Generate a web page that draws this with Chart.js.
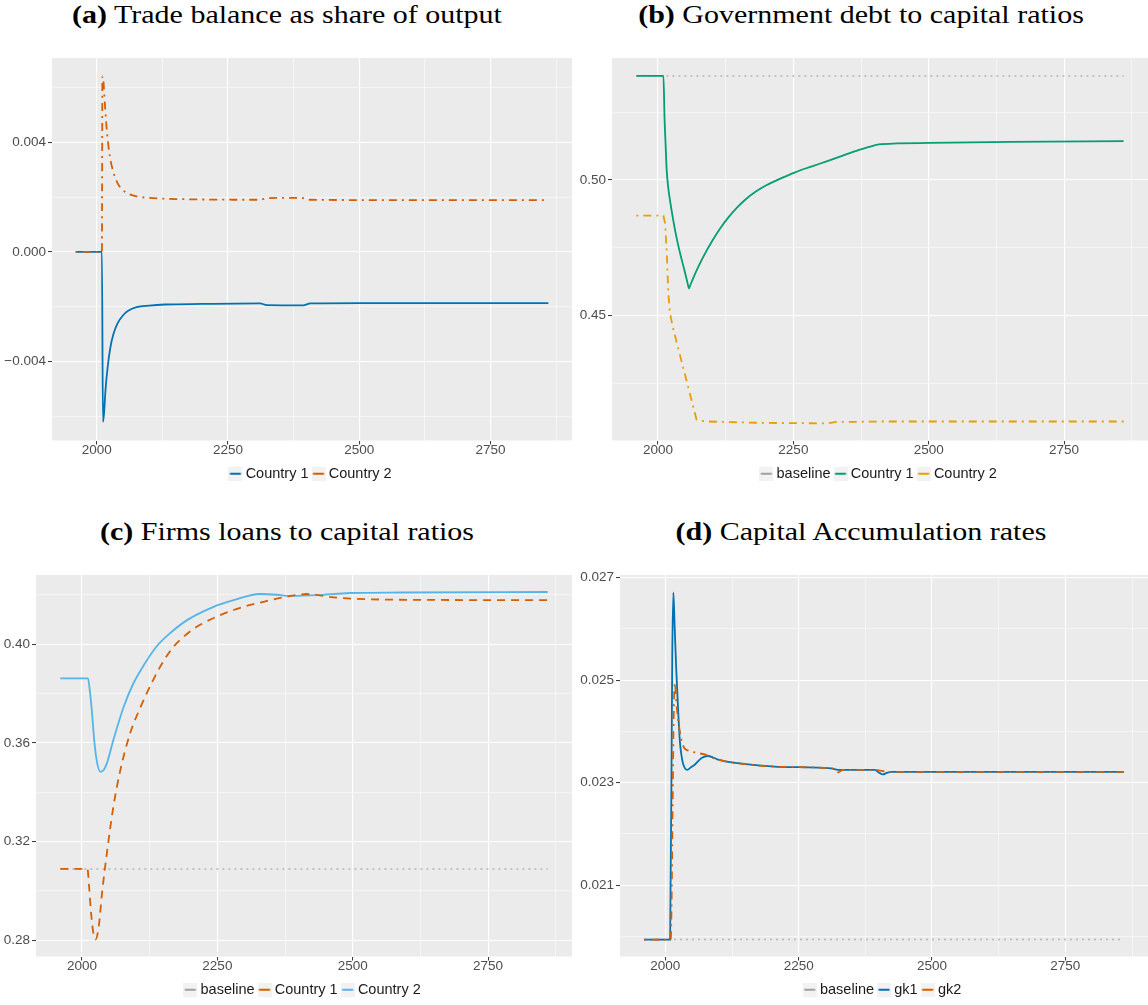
<!DOCTYPE html>
<html>
<head>
<meta charset="utf-8">
<script src="https://cdn.jsdelivr.net/npm/chart.js@4.4.0/dist/chart.umd.min.js"></script>
<style>
  html, body { margin: 0; padding: 0; background: #fff; overflow: hidden; }
  body { width: 1148px; height: 1005px; position: relative; }
  .title { position: absolute; width: 574px; text-align: center; white-space: nowrap;
           font-family: "Liberation Serif", "Times New Roman", serif; font-size: 25px; color: #000;
           transform: scaleX(1.2); transform-origin: center; }
  canvas { position: absolute; }
</style>
</head>
<body>

<div class="title" style="left:0;top:1px"><b>(a)</b> Trade balance as share of output</div>
<div class="title" style="left:574px;top:1px"><b>(b)</b> Government debt to capital ratios</div>
<div class="title" style="left:0;top:518px"><b>(c)</b> Firms loans to capital ratios</div>
<div class="title" style="left:574px;top:518px"><b>(d)</b> Capital Accumulation rates</div>

<canvas id="chartA" width="574" height="447" style="left:0;top:44px"></canvas>
<canvas id="chartB" width="576" height="447" style="left:572px;top:44px"></canvas>
<canvas id="chartC" width="574" height="446" style="left:0;top:561px"></canvas>
<canvas id="chartD" width="573" height="446" style="left:575px;top:561px"></canvas>

<script>
// ================= DATA =================
// shared x axis (years)
const yearTicks = [2000, 2125, 2250, 2375, 2500, 2625, 2750, 2875];
const yearLabels = [2000, 2250, 2500, 2750];

// (a) trade balance as share of output
const tbYears1 = [1960, 2010, 2012, 2014, 2017, 2021, 2026, 2032, 2040, 2050, 2060, 2076, 2100, 2130, 2200, 2311, 2324, 2393, 2407, 2500, 2860];
const tbCountry1 = [0, 0, -0.0062, -0.0059, -0.0050, -0.0042, -0.0035, -0.0030, -0.0026, -0.00232, -0.00215, -0.00202, -0.00196, -0.00192, -0.0019, -0.00188, -0.00194, -0.00195, -0.00188, -0.00187, -0.00187];
const tbYears2 = [1960, 2010, 2011, 2013, 2016, 2020, 2025, 2032, 2040, 2050, 2060, 2076, 2100, 2130, 2200, 2311, 2325, 2390, 2405, 2500, 2860];
const tbCountry2 = [0, 0, 0.0064, 0.0062, 0.0053, 0.0043, 0.0035, 0.0029, 0.0025, 0.00225, 0.00212, 0.00202, 0.00197, 0.00194, 0.00191, 0.0019, 0.00196, 0.00197, 0.0019, 0.00189, 0.00189];
const tbTicks = [-0.006, -0.004, -0.002, 0, 0.002, 0.004, 0.006];
const tbLabels = [-0.004, 0, 0.004];

// (b) government debt to capital ratios
const baseYears = [1960, 2860];
const gdBaseline = [0.5383, 0.5383];
const gdYears1 = [1960, 2010, 2012, 2014, 2016, 2019, 2022, 2028, 2035, 2041, 2049, 2055, 2057, 2059, 2065, 2075, 2085, 2100, 2115, 2130, 2145, 2160, 2180, 2200, 2222, 2252, 2283, 2314, 2345, 2376, 2413, 2500, 2650, 2860];
const gdCountry1 = [0.5383, 0.5383, 0.523, 0.513, 0.5037, 0.497, 0.4926, 0.4853, 0.478, 0.4728, 0.4665, 0.4616, 0.460, 0.4609, 0.4638, 0.4682, 0.4722, 0.4775, 0.4822, 0.4862, 0.4896, 0.4925, 0.4956, 0.498, 0.5001, 0.5027, 0.5049, 0.507, 0.5092, 0.5113, 0.5132, 0.5136, 0.514, 0.5143];
const gdYears2 = [1960, 2010, 2013, 2016, 2019, 2022, 2027, 2071, 2080, 2092, 2191, 2314, 2327, 2413, 2860];
const gdCountry2 = [0.4868, 0.4868, 0.484, 0.474, 0.4583, 0.451, 0.446, 0.4118, 0.4112, 0.411, 0.4105, 0.4103, 0.4108, 0.411, 0.411];
const gdTicks = [0.425, 0.45, 0.475, 0.5, 0.525];
const gdLabels = [0.45, 0.5];

// (c) firms loans to capital ratios
const flBaseline = [0.3089, 0.3089];
const flYears1 = [1960, 2010, 2013, 2016, 2020, 2025, 2031, 2037, 2046, 2058, 2071, 2089, 2108, 2132, 2150, 2169, 2190, 2219, 2280, 2342, 2391, 2415, 2465, 2526, 2650, 2860];
const flCountry1 = [0.3089, 0.3089, 0.302, 0.293, 0.2843, 0.2803, 0.2857, 0.2992, 0.3154, 0.3343, 0.3492, 0.364, 0.3745, 0.3858, 0.393, 0.399, 0.4035, 0.408, 0.4139, 0.4176, 0.4198, 0.4204, 0.419, 0.4183, 0.418, 0.4179];
const flYears2 = [1960, 2011, 2014, 2018, 2023, 2028, 2034, 2040, 2046, 2058, 2077, 2095, 2114, 2138, 2160, 2194, 2243, 2280, 2329, 2360, 2384, 2434, 2495, 2588, 2860];
const flCountry2 = [0.3862, 0.3862, 0.382, 0.3734, 0.36, 0.3518, 0.3483, 0.349, 0.3518, 0.3613, 0.3747, 0.3842, 0.3915, 0.3992, 0.404, 0.4098, 0.4152, 0.4179, 0.4204, 0.4201, 0.4196, 0.4199, 0.4208, 0.421, 0.4212];
const flTicks = [0.28, 0.30, 0.32, 0.34, 0.36, 0.38, 0.40, 0.42];
const flLabels = [0.28, 0.32, 0.36, 0.40];

// (d) capital accumulation rates
const caBaseline = [0.01994, 0.01994];
const caYears1 = [1960, 2009, 2013, 2015, 2017.5, 2020.5, 2024, 2027, 2030, 2033, 2041, 2048, 2055, 2068, 2080, 2090, 2099, 2136, 2211, 2311, 2324, 2393, 2400, 2408, 2415, 2424, 2860];
const caGk1 = [0.01994, 0.01994, 0.0255, 0.02671, 0.02604, 0.0252, 0.02442, 0.02384, 0.02355, 0.02338, 0.02325, 0.0233, 0.02335, 0.02348, 0.02352, 0.02349, 0.02345, 0.02338, 0.02331, 0.02328, 0.02325, 0.02325, 0.0232, 0.02316, 0.02319, 0.02321, 0.02321];
const caYears2 = [1960, 2010, 2016, 2018, 2020.5, 2024, 2030, 2036, 2042, 2060, 2074, 2083, 2099, 2136, 2211, 2311, 2318, 2324, 2333, 2393, 2405, 2424, 2860];
const caGk2 = [0.01994, 0.01994, 0.0245, 0.02495, 0.02458, 0.02423, 0.02384, 0.02367, 0.02363, 0.02358, 0.02355, 0.02351, 0.02345, 0.02338, 0.02331, 0.02328, 0.02326, 0.0232, 0.02325, 0.02325, 0.02323, 0.02321, 0.02321];
const caTicks = [0.020, 0.021, 0.022, 0.023, 0.024, 0.025, 0.026, 0.027];
const caLabels = [0.021, 0.023, 0.025, 0.027];

// ================= STYLE HELPERS =================
Chart.defaults.font.family = "'Liberation Sans', Arial, sans-serif";

const BLUE = '#0072B2', VERMIL = '#D55E00', GREEN = '#009E73', ORANGE = '#E69F00', SKY = '#56B4E9', GREY = '#B5B5B5';
const DOTDASH = [2, 5, 8, 5], DASHED = [8, 6], DOTTED = [2, 4];

const pts = (xs, ys) => xs.map((x, i) => ({ x: x, y: ys[i] }));
const minus = s => s.replace('-', '\u2212');

// grey legend key with a short coloured line
function keyIcon(color) {
    const c = document.createElement('canvas');
    c.width = 14; c.height = 14;
    const g = c.getContext('2d');
    g.fillStyle = '#F2F2F2';
    g.fillRect(0, 0, 14, 14);
    g.strokeStyle = color;
    g.lineWidth = 2;
    g.beginPath(); g.moveTo(1.5, 7); g.lineTo(12.5, 7); g.stroke();
    return c;
}

function series(label, xs, ys, color, dash, order, width) {
    return {
        label: label, data: pts(xs, ys), borderColor: color, borderDash: dash || [],
        borderWidth: width || 1.8, order: order, cubicInterpolationMode: 'monotone',
        pointRadius: 0, fill: false, keyColor: color === GREY ? '#A0A0A0' : color
    };
}

// ggplot grey panel
const panelBg = {
    id: 'panelBg',
    beforeDraw(chart) {
        const { ctx, chartArea: a } = chart;
        ctx.save();
        ctx.fillStyle = '#EBEBEB';
        ctx.fillRect(a.left, a.top, a.right - a.left, a.bottom - a.top);
        ctx.restore();
    }
};

function axis(ticks, labels, min, max, fmt, size, isY) {
    const major = v => labels.some(l => Math.abs(l - v) < 1e-9);
    return {
        type: 'linear', min: min, max: max,
        afterBuildTicks: s => { s.ticks = ticks.map(v => ({ value: v })); },
        afterFit: s => { if (isY) s.width = size; else s.height = size; },
        border: { display: false },
        grid: {
            color: '#FFFFFF',
            lineWidth: c => (c.tick && major(c.tick.value)) ? 1.1 : 0.55,
            tickColor: c => (c.tick && major(c.tick.value)) ? '#333333' : 'rgba(0,0,0,0)',
            tickWidth: 1,
            tickLength: 4
        },
        ticks: {
            autoSkip: false, maxRotation: 0, padding: isY ? 2 : -2,
            color: '#4D4D4D', font: { size: 13.5 },
            callback: v => major(v) ? fmt(v) : ''
        }
    };
}

function makeChart(id, datasets, y) {
    return new Chart(document.getElementById(id), {
        type: 'line',
        data: { datasets: datasets },
        options: {
            responsive: false,
            animation: false,
            layout: { padding: { top: 14, right: y.padRight, left: 0, bottom: 0 } },
            plugins: {
                tooltip: { enabled: false },
                legend: {
                    position: 'bottom',
                    fullSize: false,
                    labels: {
                        usePointStyle: true, boxWidth: 6, padding: 7,
                        color: '#1A1A1A', font: { size: 14.5 },
                        generateLabels: chart => chart.data.datasets.map((ds, i) => ({
                            text: ds.label, datasetIndex: i, hidden: false,
                            pointStyle: keyIcon(ds.keyColor), fontColor: '#1A1A1A',
                            fillStyle: 'transparent', strokeStyle: 'transparent', lineWidth: 0
                        }))
                    }
                }
            },
            scales: {
                x: axis(yearTicks, yearLabels, 1915, 2905, v => String(v), 19, false),
                y: axis(y.ticks, y.labels, y.min, y.max, y.fmt, y.width, true)
            }
        },
        plugins: [panelBg]
    });
}

// ================= CHARTS =================
makeChart('chartA', [
    series('Country 1', tbYears1, tbCountry1, BLUE, null, 2),
    series('Country 2', tbYears2, tbCountry2, VERMIL, DOTDASH, 1)
], { ticks: tbTicks, labels: tbLabels, min: -0.00688, max: 0.00707, width: 52, padRight: 2, fmt: v => minus(v.toFixed(3)) });

const gdSets = [
    series('baseline', baseYears, gdBaseline, GREY, DOTTED, 3, 1.5),
    series('Country 1', gdYears1, gdCountry1, GREEN, null, 2),
    series('Country 2', gdYears2, gdCountry2, ORANGE, DOTDASH, 1)
];
// the Country 2 path is made of straight pieces
gdSets[2].cubicInterpolationMode = 'default';
gdSets[2].tension = 0;
makeChart('chartB', gdSets,
    { ticks: gdTicks, labels: gdLabels, min: 0.4040, max: 0.5449, width: 40, padRight: 0, fmt: v => v.toFixed(2) });

makeChart('chartC', [
    series('baseline', baseYears, flBaseline, GREY, DOTTED, 3, 1.5),
    series('Country 1', flYears1, flCountry1, VERMIL, DASHED, 1),
    series('Country 2', flYears2, flCountry2, SKY, null, 2)
], { ticks: flTicks, labels: flLabels, min: 0.2734, max: 0.4281, width: 36, padRight: 2, fmt: v => v.toFixed(2) });

makeChart('chartD', [
    series('baseline', baseYears, caBaseline, GREY, DOTTED, 3, 1.5),
    series('gk1', caYears1, caGk1, BLUE, null, 2),
    series('gk2', caYears2, caGk2, VERMIL, DOTDASH, 1)
], { ticks: caTicks, labels: caLabels, min: 0.01961, max: 0.02705, width: 45, padRight: 0, fmt: v => v.toFixed(3) });
</script>
</body>
</html>
